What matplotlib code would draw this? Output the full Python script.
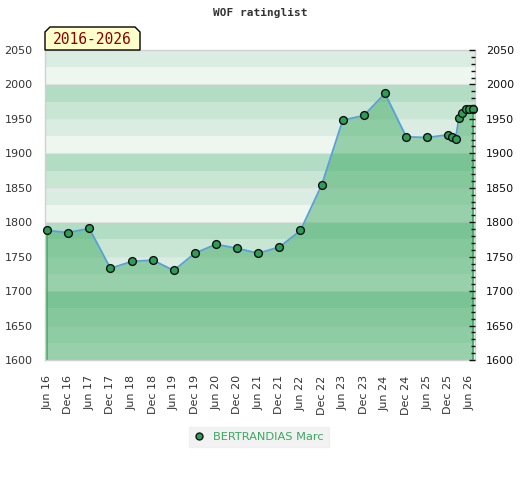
import datetime as dt
import numpy as np
import matplotlib
matplotlib.use("Agg")
import matplotlib.pyplot as plt
from matplotlib.patches import Polygon
from matplotlib.lines import Line2D

# ---- data ----
dates = ["2016-06-01", "2016-12-01", "2017-06-01", "2017-12-01", "2018-06-01",
         "2018-12-01", "2019-06-01", "2019-12-01", "2020-06-01", "2020-12-01",
         "2021-06-01", "2021-12-01", "2022-06-01", "2022-12-01", "2023-06-01",
         "2023-12-01", "2024-06-01", "2024-12-01", "2025-06-01", "2025-12-01",
         "2026-01-01", "2026-02-01", "2026-03-01", "2026-04-01", "2026-05-01",
         "2026-06-01", "2026-07-01"]
ratings = [1788, 1785, 1791, 1733, 1743, 1745, 1730, 1755, 1768, 1762,
           1755, 1764, 1788, 1854, 1948, 1955, 1987, 1924, 1923, 1927,
           1924, 1921, 1951, 1958, 1965, 1965, 1965]
tick_dates = ["2016-06-01", "2016-12-01", "2017-06-01", "2017-12-01", "2018-06-01",
              "2018-12-01", "2019-06-01", "2019-12-01", "2020-06-01", "2020-12-01",
              "2021-06-01", "2021-12-01", "2022-06-01", "2022-12-01", "2023-06-01",
              "2023-12-01", "2024-06-01", "2024-12-01", "2025-06-01", "2025-12-01",
              "2026-06-01"]
tick_labels = ["Jun 16", "Dec 16", "Jun 17", "Dec 17", "Jun 18", "Dec 18", "Jun 19",
               "Dec 19", "Jun 20", "Dec 20", "Jun 21", "Dec 21", "Jun 22", "Dec 22",
               "Jun 23", "Dec 23", "Jun 24", "Dec 24", "Jun 25", "Dec 25", "Jun 26"]
y_min, y_max = 1600, 2050
title = "WOF ratinglist"
period_label = "2016-2026"
player = "BERTRANDIAS Marc"

# ---- figure ----
W, H = 520, 480
fig = plt.figure(figsize=(W / 100, H / 100), dpi=100)
ax = fig.add_axes([45 / W, 1 - 360 / H, 430 / W, 310 / H])

x = [dt.datetime.strptime(d, "%Y-%m-%d") for d in dates]
xt = [dt.datetime.strptime(d, "%Y-%m-%d") for d in tick_dates]

# background bands
band_colors = ["#b2dcc3", "#c8e6d3", "#dbede2", "#eef6f0"]
edges = np.arange(y_max, y_min, -25)
for i, top in enumerate(edges):
    c = band_colors[(i + 2) % 4]
    ax.axhspan(top - 25, top, color=c, lw=0, zorder=0)

for yv in np.arange(y_min, y_max + 1, 50):
    ax.axhline(yv, color="#e2e2e2", lw=0.8, zorder=0.5)

# area
ax.fill_between(x, ratings, y_min, color="#42ac67", alpha=0.5, lw=0, zorder=1)
ax.vlines([x[0], x[-1]], y_min, [ratings[0], ratings[-1]], color="#3aa860", lw=1.2, zorder=2)
ax.plot(x, ratings, color="#5aa0d8", lw=1.3, zorder=3)
ax.plot(x, ratings, ls="none", marker="o", ms=5.6, mfc="#2e9e57", mec="#111111",
        mew=1.0, zorder=4, clip_on=False)

pad = dt.timedelta(days=18)
ax.set_xlim(x[0] - pad, x[-1] + pad)
ax.set_ylim(y_min, y_max)

ax.set_xticks(xt)
ax.set_xticklabels(tick_labels, rotation=90, fontsize=8, color="#333333")
ax.tick_params(axis="x", length=0, pad=11)
ax.set_yticks(np.arange(y_min, y_max + 1, 50))
ax.tick_params(axis="y", length=0, labelsize=8, labelcolor="#333333", pad=9)

for s in ax.spines.values():
    s.set_color("#d0d0d0")
    s.set_linewidth(1.0)

# right axis with inward ticks
ax2 = ax.twinx()
ax2.set_ylim(y_min, y_max)
ax2.set_yticks(np.arange(y_min, y_max + 1, 50))
ax2.set_yticks(np.arange(y_min, y_max + 1, 10), minor=True)
ax2.tick_params(axis="y", which="major", direction="in", length=4, width=1,
                color="#111111", labelsize=8, labelcolor="#111111", pad=8)
ax2.tick_params(axis="y", which="minor", direction="in", length=3, width=1,
                color="#111111")
for s in ax2.spines.values():
    s.set_visible(False)

# title
fig.text(260 / W, 1 - 13 / H, title, ha="center", va="center",
         fontsize=8, family="DejaVu Sans Mono", weight="bold", color="#333333")

# period label box (chamfered top corners)
bx0, bx1, by0, by1, ch = 45, 140, 27, 50, 5
pts = [(bx0, by1), (bx0, by0 + ch), (bx0 + ch, by0), (bx1 - ch, by0),
       (bx1, by0 + ch), (bx1, by1)]
poly = Polygon([(px / W, 1 - py / H) for px, py in pts], closed=True,
               transform=fig.transFigure, facecolor="#ffffcc", edgecolor="#000000",
               lw=1.0, zorder=5)
fig.add_artist(poly)
fig.text((bx0 + bx1) / 2 / W, 1 - 40 / H, period_label, ha="center", va="center",
         fontsize=10.5, family="DejaVu Sans Mono", color="#8b0000", zorder=6)

# legend
leg_handle = Line2D([], [], ls="none", marker="o", ms=5, mfc="#2e9e57",
                    mec="#111111", mew=1.0)
leg = fig.legend([leg_handle], [player], loc="center", bbox_to_anchor=(259 / W, 1 - 437 / H),
                 frameon=True, fontsize=8.2, handlelength=0.9, handletextpad=0.8,
                 borderpad=0.4, fancybox=False)
leg.get_frame().set_facecolor("#efefef")
leg.get_frame().set_edgecolor("#efefef")
for t in leg.get_texts():
    t.set_color("#3aa860")

fig.savefig("out.png", dpi=100)
